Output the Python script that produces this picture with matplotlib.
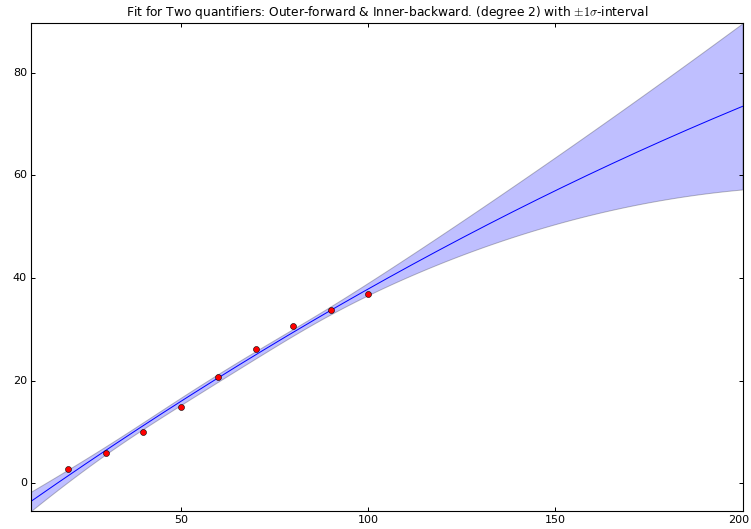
import numpy as np
import matplotlib
matplotlib.use('Agg')
import matplotlib.pyplot as plt
import matplotlib.transforms as mtransforms

plt.style.use('classic')
plt.rcParams['figure.facecolor'] = 'white'
plt.rcParams['savefig.facecolor'] = 'white'
plt.rcParams['font.size'] = 8.64

# measured sizes vs. time
sizes = [20, 30, 40, 50, 60, 70, 80, 90, 100]
times = [2.78, 5.78, 9.99, 14.8, 20.77, 26.1, 30.7, 33.67, 36.85]
degree = 2

x = np.array(sizes, dtype=float)
y = np.array(times, dtype=float)

# least squares fit, covariance scaled as in the old np.polyfit (n - deg - 3)
A = np.vander(x, degree + 1)
coef, resid, rank, sv = np.linalg.lstsq(A, y, rcond=None)
dof = len(x) - degree - 3
cov = np.linalg.inv(A.T @ A) * (resid[0] / dof)

xs = np.linspace(10, 200, 400)
V = np.vander(xs, degree + 1)
fit = V @ coef
sigma = np.sqrt(np.einsum('ij,jk,ik->i', V, cov, V))
lower = fit - sigma
upper = fit + sigma

fig = plt.figure(figsize=(7.51, 5.29), dpi=100)
ax = fig.add_axes([0.0413, 0.034, 0.9474, 0.922])

ax.fill_between(xs, lower, upper, alpha=0.25, linewidth=0.72)
ax.plot(xs, fit, 'b-', lw=0.72)
ax.plot(x, y, 'ro', markersize=4.3, markeredgewidth=0.4)

ax.set_xlim(10, 200)
ax.set_ylim(lower.min(), upper.max())
ax.set_xticks([50, 100, 150, 200])
ax.set_yticks([0, 20, 40, 60, 80])
ax.tick_params(length=2.9, width=0.72, labelsize=8, pad=2.9)
for s in ax.spines.values():
    s.set_linewidth(0.8)

# keep the last x label inside the figure
last = ax.get_xticklabels()[-1]
last.set_transform(last.get_transform() +
                   mtransforms.ScaledTranslation(-4 / 100, 0, fig.dpi_scale_trans))

ax.set_title('Fit for Two quantifiers: Outer-forward & Inner-backward. (degree 2) with $\\pm1\\sigma$-interval',
             fontsize=8.8)

fig.savefig('out.png', dpi=100)
